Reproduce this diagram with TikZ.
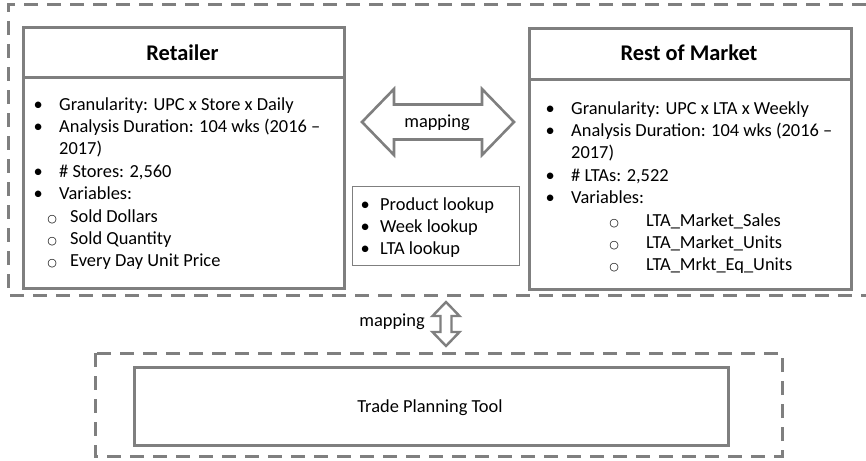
\documentclass[tikz,border=0pt]{standalone}
\usepackage{fontspec}
\setmainfont{Carlito}
\newfontfamily\markfont{DejaVu Sans}
\definecolor{edge}{HTML}{7F7F7F}
\newcommand{\itembul}[1]{\llap{\makebox[0pt][c]{•}\hspace{#1}}}
\newcommand{\subbul}[1]{\llap{\makebox[0pt][c]{\markfont\fontsize{11}{11}\selectfont ○}\hspace{#1}}}
\begin{document}
\begin{tikzpicture}[x=1pt,y=-1pt,
  solidbox/.style={draw=edge, line width=3pt, inner sep=0pt, anchor=north west},
  thinbox/.style={draw=edge, line width=1.1pt, inner sep=0pt, anchor=north west},
  groupbox/.style={draw=edge, line width=3pt, dash pattern=on 14pt off 9pt},
  blockarrow/.style={draw=edge, line width=2.6pt, fill=white, line join=miter},
  body/.style={font=\fontsize{18.4}{22.3}\selectfont, inner sep=0pt, text=black},
  ttl/.style={font=\fontsize{22.4}{27}\selectfont\bfseries, inner sep=0pt, text=black, anchor=base},
]
\useasboundingbox (0,0) rectangle (866,460);

% top group (open on the right, runs off the picture)
\draw[groupbox] (866,5) -- (8,5) -- (8,295) -- (866,295);

% Retailer box
\node[solidbox, minimum width=321pt, minimum height=261pt] (ret) at (22,26) {};
\draw[draw=edge, line width=3pt] (22,77) -- (343,77);
\node[ttl] (rettitle) at (182.5,60) {Retailer};
\node[body, anchor=base west] (r1) at (59,110) {\itembul{21pt}Granularity: UPC x Store x Daily};
\node[body, anchor=base west] (r2) at (59,132.4) {\itembul{21pt}Analysis Duration: 104 wks (2016 –};
\node[body, anchor=base west] (r3) at (59,154.8) {2017)};
\node[body, anchor=base west] (r4) at (59,177.2) {\itembul{21pt}\# Stores: 2,560};
\node[body, anchor=base west] (r5) at (59,199.6) {\itembul{21pt}Variables:};
\node[body, anchor=base west] (r6) at (70,222) {\subbul{18pt}Sold Dollars};
\node[body, anchor=base west] (r7) at (70,244.4) {\subbul{18pt}Sold Quantity};
\node[body, anchor=base west] (r8) at (70,266.8) {\subbul{18pt}Every Day Unit Price};

% Rest of Market box
\node[solidbox, minimum width=322pt, minimum height=261pt] (rom) at (528,27) {};
\draw[draw=edge, line width=3pt] (528,79) -- (850,79);
\node[ttl] (romtitle) at (689,60) {Rest of Market};
\node[body, anchor=base west] (m1) at (571,114) {\itembul{21pt}Granularity: UPC x LTA x Weekly};
\node[body, anchor=base west] (m2) at (571,136.4) {\itembul{21pt}Analysis Duration: 104 wks (2016 –};
\node[body, anchor=base west] (m3) at (571,158.8) {2017)};
\node[body, anchor=base west] (m4) at (571,181.2) {\itembul{21pt}\# LTAs: 2,522};
\node[body, anchor=base west] (m5) at (571,203.6) {\itembul{21pt}Variables:};
\node[body, anchor=base west] (m6) at (646,226) {\subbul{32pt}LTA\_Market\_Sales};
\node[body, anchor=base west] (m7) at (646,248.4) {\subbul{32pt}LTA\_Market\_Units};
\node[body, anchor=base west] (m8) at (646,270.8) {\subbul{32pt}LTA\_Mrkt\_Eq\_Units};

% lookup box
\node[thinbox, minimum width=167pt, minimum height=79pt] (look) at (352,186) {};
\node[body, anchor=base west] (l1) at (380,210) {\itembul{15pt}Product lookup};
\node[body, anchor=base west] (l2) at (380,232) {\itembul{15pt}Week lookup};
\node[body, anchor=base west] (l3) at (380,254) {\itembul{15pt}LTA lookup};

% horizontal mapping arrow
\draw[blockarrow] (362,122) -- (394,89) -- (394,104.5) -- (482,104.5) -- (482,89)
  -- (514,122) -- (482,155) -- (482,139.5) -- (394,139.5) -- (394,155) -- cycle;
\node[body, anchor=base] (maph) at (437,127) {mapping};

% vertical mapping arrow
\draw[blockarrow, line width=2.4pt] (446,302) -- (459.5,316) -- (451.5,316) -- (451.5,332)
  -- (459.5,332) -- (446,346) -- (432.5,332) -- (440.5,332) -- (440.5,316)
  -- (432.5,316) -- cycle;
\node[body, anchor=base east] (mapv) at (425,326) {mapping};

% bottom group
\draw[groupbox] (95,353) rectangle (782,456);
\node[solidbox, minimum width=594pt, minimum height=78pt] (tool) at (133,366) {};
\node[body, anchor=base] (tooltext) at (430,412) {Trade Planning Tool};
\end{tikzpicture}
\end{document}
